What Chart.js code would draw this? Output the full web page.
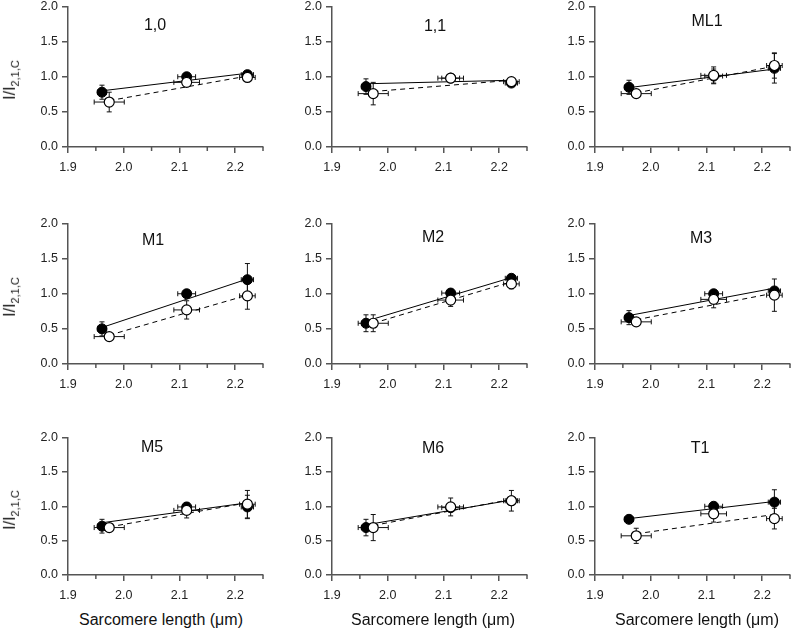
<!DOCTYPE html>
<html>
<head>
<meta charset="utf-8">
<script src="https://cdn.jsdelivr.net/npm/chart.js@4.4.0/dist/chart.umd.min.js"></script>
<style>
  body { margin: 0; width: 796px; height: 630px; overflow: hidden; background: #fff;
         font-family: "Liberation Sans", Arial, sans-serif; position: relative; }
  canvas { position: absolute; }
  .lbl { position: absolute; font-size: 16px; color: #111; white-space: nowrap; transform: translate(-50%, -50%); }
  .ylab { position: absolute; font-size: 16px; color: #111; white-space: nowrap; transform: translate(-50%, -50%) rotate(-90deg); }
  .ylab sub { font-size: 11px; }
</style>
</head>
<body>
<script>
// reflections, one panel each
const panels = ["1,0", "1,1", "ML1", "M1", "M2", "M3", "M5", "M6", "T1"];

// sarcomere length (um) +- sem; filled = solid symbols, open = open symbols
const slFilled = [1.961, 2.113, 2.222];
const slFilledErr = [0.008, 0.016, 0.011];
const slOpen = [1.974, 2.113, 2.222];
const slOpenErr = [0.027, 0.023, 0.014];

// I/I2,1,C values per panel
const yFilled = [
  [0.78, 1.00, 1.03], [0.86, 0.98, 0.91], [0.85, 1.01, 1.12],
  [0.50, 1.00, 1.20], [0.58, 1.01, 1.22], [0.66, 1.00, 1.04],
  [0.71, 0.99, 0.99], [0.69, 0.98, 1.08], [0.81, 1.00, 1.06]
];
const errFilled = [
  [0.10, 0.03, 0.03], [0.11, 0.03, 0.03], [0.10, 0.10, 0.21],
  [0.10, 0.03, 0.23], [0.12, 0.03, 0.04], [0.10, 0.03, 0.05],
  [0.10, 0.03, 0.17], [0.12, 0.03, 0.03], [0.03, 0.03, 0.18]
];
const yOpen = [
  [0.64, 0.92, 0.99], [0.76, 0.98, 0.93], [0.76, 1.02, 1.16],
  [0.39, 0.77, 0.97], [0.58, 0.91, 1.14], [0.60, 0.92, 0.98],
  [0.69, 0.94, 1.03], [0.69, 0.99, 1.08], [0.57, 0.89, 0.82]
];
const errOpen = [
  [0.14, 0.03, 0.03], [0.16, 0.04, 0.03], [0.04, 0.12, 0.18],
  [0.04, 0.13, 0.19], [0.12, 0.09, 0.07], [0.04, 0.12, 0.23],
  [0.04, 0.11, 0.20], [0.19, 0.13, 0.15], [0.11, 0.12, 0.15]
];
// regression lines, value at first and last SL
const fitFilled = [
  [0.80, 1.05], [0.90, 0.95], [0.845, 1.11],
  [0.52, 1.21], [0.61, 1.23], [0.69, 1.08],
  [0.76, 1.05], [0.73, 1.09], [0.82, 1.07]
];
const fitOpen = [
  [0.66, 1.01], [0.79, 0.95], [0.77, 1.15],
  [0.41, 0.98], [0.58, 1.17], [0.63, 1.01],
  [0.70, 1.05], [0.72, 1.10], [0.60, 0.88]
];

const xTicks = [1.9, 2.0, 2.1, 2.2];
const yTicks = [0.0, 0.5, 1.0, 1.5, 2.0];

// layout
const axisX = [68, 332, 595];
const rowTop = [5, 222, 436];
const rowBot = [146.7, 364, 575];
const labelPos = [[87, 20], [103, 21], [112, 16], [85, 18], [101, 15], [106, 16], [84, 11], [101, 12], [105, 12]];
const AXIS = '#555';

const errorBars = {
  id: 'errorBars',
  beforeDatasetsDraw(chart, args, opts) {
    const {ctx, scales: {x, y}} = chart;
    const cap = 2.5;
    ctx.save();
    ctx.strokeStyle = '#111';
    ctx.lineWidth = 1;
    opts.sets.forEach(s => {
      s.x.forEach((xv, i) => {
        const px = x.getPixelForValue(xv), py = y.getPixelForValue(s.y[i]);
        const y1 = y.getPixelForValue(s.y[i] + s.ey[i]), y2 = y.getPixelForValue(s.y[i] - s.ey[i]);
        const x1 = x.getPixelForValue(xv - s.ex[i]), x2 = x.getPixelForValue(xv + s.ex[i]);
        ctx.beginPath();
        ctx.moveTo(px, y1); ctx.lineTo(px, y2);
        ctx.moveTo(px - cap, y1); ctx.lineTo(px + cap, y1);
        ctx.moveTo(px - cap, y2); ctx.lineTo(px + cap, y2);
        ctx.moveTo(x1, py); ctx.lineTo(x2, py);
        ctx.moveTo(x1, py - cap); ctx.lineTo(x1, py + cap);
        ctx.moveTo(x2, py - cap); ctx.lineTo(x2, py + cap);
        ctx.stroke();
      });
    });
    ctx.restore();
  }
};

const minorTicks = {
  id: 'minorTicks',
  afterDraw(chart) {
    const {ctx, scales: {x}} = chart;
    ctx.save();
    ctx.strokeStyle = AXIS;
    ctx.lineWidth = 1.5;
    x.ticks.forEach(t => {
      if (Math.round(t.value * 100) % 10 === 0) return;
      const px = x.getPixelForValue(t.value);
      ctx.beginPath();
      ctx.moveTo(px, x.top);
      ctx.lineTo(px, x.top + 4);
      ctx.stroke();
    });
    ctx.restore();
  }
};

const isMajor = v => Math.round(v * 100) % 10 === 0;

panels.forEach((name, p) => {
  const col = p % 3, row = Math.floor(p / 3);
  const padTop = 10;
  const cv = document.createElement('canvas');
  const h = (rowBot[row] - rowTop[row]) + padTop + 34;
  cv.width = 270;
  cv.height = Math.round(h);
  cv.style.left = (axisX[col] - 68) + 'px';
  cv.style.top = (rowTop[row] - padTop) + 'px';
  document.body.appendChild(cv);

  const pts = (xs, ys) => xs.map((v, i) => ({x: v, y: ys[i]}));
  const fitPts = (xs, f) => [{x: xs[0], y: f[0]}, {x: xs[xs.length - 1], y: f[1]}];

  new Chart(cv, {
    type: 'scatter',
    data: {
      datasets: [
        { data: pts(slOpen, yOpen[p]), pointRadius: 5, pointBackgroundColor: '#fff',
          pointBorderColor: '#000', pointBorderWidth: 1.2, showLine: false },
        { data: pts(slFilled, yFilled[p]), pointRadius: 5, pointBackgroundColor: '#000',
          pointBorderColor: '#000', pointBorderWidth: 1, showLine: false },
        { type: 'line', data: fitPts(slFilled, fitFilled[p]), borderColor: '#000', borderWidth: 1,
          pointRadius: 0, fill: false },
        { type: 'line', data: fitPts(slOpen, fitOpen[p]), borderColor: '#000', borderWidth: 1,
          borderDash: [5, 4], pointRadius: 0, fill: false }
      ]
    },
    options: {
      responsive: false,
      animation: false,
      devicePixelRatio: 1,
      layout: { padding: { top: padTop, right: 2, left: 0, bottom: 0 } },
      plugins: {
        legend: { display: false },
        tooltip: { enabled: false },
        errorBars: {
          sets: [
            { x: slFilled, ex: slFilledErr, y: yFilled[p], ey: errFilled[p] },
            { x: slOpen, ex: slOpenErr, y: yOpen[p], ey: errOpen[p] }
          ]
        }
      },
      scales: {
        x: {
          type: 'linear', min: 1.9, max: 2.25,
          afterFit: s => { s.height = 34; },
          border: { color: AXIS, width: 1.5 },
          grid: { drawOnChartArea: false, tickLength: 6, lineWidth: 1.5,
                  tickColor: c => isMajor(c.tick.value) ? AXIS : 'rgba(0,0,0,0)' },
          ticks: {
            stepSize: 0.05, autoSkip: false, maxRotation: 0, padding: 7,
            color: '#222', font: { size: 12.5, family: '"Liberation Sans", Arial, sans-serif' },
            callback: v => isMajor(v) && xTicks.some(t => Math.abs(t - v) < 1e-6) ? v.toFixed(1) : ''
          }
        },
        y: {
          min: 0, max: 2,
          afterFit: s => { s.width = 68; },
          border: { color: AXIS, width: 1.5 },
          grid: { drawOnChartArea: false, tickLength: 6, lineWidth: 1.5, tickColor: AXIS },
          ticks: {
            stepSize: 0.5, padding: 4, color: '#222',
            font: { size: 12.5, family: '"Liberation Sans", Arial, sans-serif' },
            callback: v => yTicks.some(t => Math.abs(t - v) < 1e-6) ? v.toFixed(1) : ''
          }
        }
      }
    },
    plugins: [errorBars, minorTicks]
  });

  const t = document.createElement('div');
  t.className = 'lbl';
  t.textContent = name;
  t.style.left = (axisX[col] + labelPos[p][0]) + 'px';
  t.style.top = (rowTop[row] + labelPos[p][1]) + 'px';
  document.body.appendChild(t);

  if (col === 0) {
    const yl = document.createElement('div');
    yl.className = 'ylab';
    yl.innerHTML = 'I/I<sub>2,1,C</sub>';
    yl.style.left = '11px';
    yl.style.top = ((rowTop[row] + rowBot[row]) / 2 + 4) + 'px';
    document.body.appendChild(yl);
  }
  if (row === 2) {
    const xl = document.createElement('div');
    xl.className = 'lbl';
    xl.textContent = 'Sarcomere length (\u03bcm)';
    xl.style.left = (axisX[col] + [93, 101, 102][col]) + 'px';
    xl.style.top = '620px';
    document.body.appendChild(xl);
  }
});
</script>
</body>
</html>
